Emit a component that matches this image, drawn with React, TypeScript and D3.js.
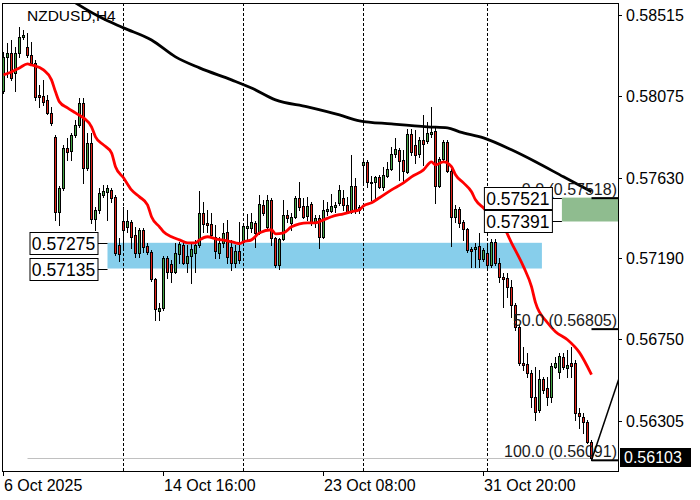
import * as d3 from 'd3'

// NZDUSD H4 candles, 6 Oct 2025 onwards
const opens = [
  0.58102, 0.58287, 0.58309, 0.582, 0.58309, 0.58396, 0.58341, 0.58298, 0.58255, 0.5808,
  0.58074, 0.58053, 0.57983, 0.57852, 0.57444, 0.57574, 0.57791, 0.57776, 0.57863, 0.57917,
  0.58037, 0.57683, 0.57819, 0.57406, 0.57455, 0.57536, 0.57552, 0.57563, 0.57525, 0.57264,
  0.57395, 0.57362, 0.57389, 0.57319, 0.57221, 0.57346, 0.57258, 0.57226, 0.57079, 0.56906,
  0.56921, 0.57193, 0.57161, 0.57117, 0.57215, 0.57264, 0.57167, 0.57204, 0.57221, 0.57264,
  0.57439, 0.57384, 0.57378, 0.57308, 0.57221, 0.57275, 0.57335, 0.57253, 0.57167, 0.57232,
  0.5728, 0.57356, 0.57356, 0.57384, 0.5733, 0.57482, 0.57362, 0.57509, 0.57302, 0.57156,
  0.57297, 0.57428, 0.57384, 0.57417, 0.5752, 0.57477, 0.57422, 0.57487, 0.57389, 0.57411,
  0.57308, 0.57449, 0.57449, 0.57471, 0.57493, 0.5752, 0.57482, 0.57444, 0.57585, 0.57471,
  0.57699, 0.57716, 0.57607, 0.57607, 0.57634, 0.5758, 0.5764, 0.57678, 0.57759, 0.57781,
  0.57727, 0.57661, 0.57868, 0.57808, 0.57759, 0.57835, 0.5783, 0.57868, 0.57885, 0.57585,
  0.57732, 0.57824, 0.57667, 0.57417, 0.5746, 0.57389, 0.57351, 0.57242, 0.57242, 0.57258,
  0.57188, 0.57221, 0.57156, 0.5728, 0.57167, 0.5709, 0.57084, 0.57036, 0.56938, 0.56818,
  0.56623, 0.56617, 0.56568, 0.56437, 0.56367, 0.56535, 0.56486, 0.56437, 0.56601, 0.56574,
  0.56655, 0.56595, 0.56623, 0.56623, 0.56351, 0.56329, 0.56301, 0.56193,
]
const highs = [
  0.58314, 0.58363, 0.58379, 0.58341, 0.5845, 0.58434, 0.58418, 0.58368, 0.58271, 0.58135,
  0.58162, 0.5808, 0.58015, 0.57863, 0.57585, 0.57808, 0.57846, 0.57874, 0.57944, 0.58063,
  0.58063, 0.57874, 0.57874, 0.57471, 0.57574, 0.57591, 0.57591, 0.57574, 0.57536, 0.57302,
  0.57471, 0.57455, 0.574, 0.57362, 0.57356, 0.57356, 0.57275, 0.57237, 0.57084, 0.56949,
  0.57204, 0.57204, 0.57183, 0.57275, 0.5728, 0.5728, 0.57264, 0.5728, 0.57291, 0.57558,
  0.57498, 0.57455, 0.57439, 0.57373, 0.57308, 0.57384, 0.574, 0.57291, 0.57264, 0.57389,
  0.57384, 0.57433, 0.57439, 0.57395, 0.57536, 0.57509, 0.57536, 0.5752, 0.57308, 0.57302,
  0.57509, 0.57455, 0.57439, 0.57531, 0.57607, 0.5752, 0.57525, 0.57498, 0.57428, 0.57428,
  0.57509, 0.57498, 0.57542, 0.57498, 0.57591, 0.57563, 0.57525, 0.57754, 0.57629, 0.57482,
  0.57737, 0.57727, 0.5764, 0.5764, 0.57645, 0.57689, 0.57716, 0.57797, 0.57846, 0.57791,
  0.57781, 0.57895, 0.57895, 0.5789, 0.57852, 0.57972, 0.57933, 0.58015, 0.57906, 0.57743,
  0.57835, 0.57835, 0.57678, 0.57482, 0.57471, 0.574, 0.57356, 0.57253, 0.57275, 0.5733,
  0.57247, 0.57264, 0.57297, 0.57297, 0.57193, 0.57112, 0.57112, 0.57074, 0.56949, 0.56829,
  0.56709, 0.56677, 0.56584, 0.56601, 0.56584, 0.56546, 0.56546, 0.56623, 0.56655, 0.56677,
  0.56677, 0.56693, 0.56709, 0.56639, 0.56378, 0.56351, 0.56312, 0.56203,
]
const lows = [
  0.58091, 0.58178, 0.58162, 0.58102, 0.58287, 0.58385, 0.58287, 0.58244, 0.58053, 0.58015,
  0.58026, 0.57977, 0.57917, 0.574, 0.57373, 0.57563, 0.57727, 0.57727, 0.57852, 0.57906,
  0.57602, 0.57672, 0.57384, 0.57346, 0.57439, 0.57525, 0.574, 0.57498, 0.5721, 0.57178,
  0.57237, 0.57335, 0.57247, 0.57199, 0.57199, 0.57226, 0.57215, 0.57069, 0.56856, 0.56856,
  0.56911, 0.57084, 0.57063, 0.57112, 0.57167, 0.57161, 0.57117, 0.57058, 0.57117, 0.57253,
  0.57335, 0.57335, 0.57302, 0.57193, 0.57193, 0.57253, 0.57167, 0.57128, 0.57145, 0.57167,
  0.57264, 0.57291, 0.57335, 0.57253, 0.57324, 0.57428, 0.57356, 0.57264, 0.57145, 0.57134,
  0.57291, 0.57389, 0.57346, 0.57411, 0.57455, 0.57411, 0.574, 0.57373, 0.57362, 0.57247,
  0.57302, 0.57428, 0.57444, 0.57444, 0.57482, 0.57455, 0.57439, 0.57439, 0.57439, 0.57439,
  0.57591, 0.5758, 0.57509, 0.5752, 0.57574, 0.57563, 0.57634, 0.57672, 0.57743, 0.57618,
  0.57602, 0.57656, 0.57754, 0.5771, 0.57743, 0.57699, 0.57819, 0.57852, 0.57493, 0.5758,
  0.57721, 0.57661, 0.57258, 0.57389, 0.57362, 0.57291, 0.57226, 0.57145, 0.57145, 0.57145,
  0.57178, 0.57139, 0.57145, 0.57156, 0.57063, 0.56927, 0.56981, 0.56873, 0.56802, 0.56612,
  0.56584, 0.56546, 0.56383, 0.56312, 0.56356, 0.56459, 0.56394, 0.5641, 0.56595, 0.56541,
  0.5659, 0.56546, 0.56546, 0.56312, 0.56269, 0.56242, 0.56187, 0.56091,
]
const closes = [
  0.58287, 0.58309, 0.58172, 0.58309, 0.58396, 0.58407, 0.58298, 0.58255, 0.58069, 0.58069,
  0.58042, 0.57983, 0.57928, 0.57444, 0.57574, 0.57791, 0.5777, 0.57863, 0.57917, 0.58037,
  0.57683, 0.57819, 0.57406, 0.57455, 0.57547, 0.57558, 0.57574, 0.5752, 0.57221, 0.57215,
  0.57346, 0.57395, 0.57308, 0.57221, 0.57346, 0.57253, 0.57226, 0.57079, 0.56916, 0.56921,
  0.57193, 0.57117, 0.57117, 0.57221, 0.57269, 0.57167, 0.57204, 0.57242, 0.57264, 0.57439,
  0.57378, 0.57373, 0.57319, 0.57232, 0.57275, 0.5733, 0.57199, 0.57167, 0.57232, 0.57183,
  0.57367, 0.57367, 0.57389, 0.5733, 0.57487, 0.57439, 0.57509, 0.57302, 0.57156, 0.57297,
  0.57428, 0.57411, 0.57417, 0.5752, 0.57471, 0.57417, 0.57477, 0.57384, 0.57411, 0.57308,
  0.57455, 0.5746, 0.57477, 0.57482, 0.57563, 0.57482, 0.57444, 0.57585, 0.57455, 0.57455,
  0.57716, 0.57607, 0.57602, 0.57634, 0.5758, 0.57645, 0.57678, 0.57759, 0.57786, 0.57721,
  0.57667, 0.57868, 0.5777, 0.57754, 0.57835, 0.57813, 0.57874, 0.57879, 0.57585, 0.57732,
  0.57824, 0.57667, 0.57417, 0.5746, 0.57384, 0.57351, 0.57237, 0.57232, 0.57253, 0.57188,
  0.57237, 0.57156, 0.5728, 0.57167, 0.5709, 0.57079, 0.57036, 0.56938, 0.56818, 0.56623,
  0.56612, 0.56568, 0.56437, 0.56356, 0.56535, 0.56475, 0.56437, 0.56606, 0.56623, 0.56661,
  0.56601, 0.56612, 0.56606, 0.56351, 0.56334, 0.56301, 0.56193, 0.56103,
]

// moving averages, read at sample bars
const redMaBars = [0, 2, 4, 6, 7, 10, 12, 13, 14, 16, 18, 20, 22, 23, 25, 27, 28, 30, 32, 34, 36, 37, 39, 40, 42, 44, 46, 48, 49, 51, 53, 56, 58, 59, 60, 62, 64, 67, 68, 70, 72, 76, 78, 80, 82, 85, 87, 89, 90, 92, 94, 97, 100, 102, 105, 107, 108, 110, 112, 113, 115, 117, 118, 120, 123, 125, 127, 130, 132, 133, 136, 138, 141, 144, 147]
const redMaValues = [0.58189, 0.58205, 0.58227, 0.58249, 0.58243, 0.58216, 0.58162, 0.58097, 0.58042, 0.58009, 0.57982, 0.57955, 0.57906, 0.57852, 0.57808, 0.57765, 0.57689, 0.57629, 0.57563, 0.57525, 0.57482, 0.57417, 0.57362, 0.57335, 0.57308, 0.57291, 0.57275, 0.57275, 0.57291, 0.57308, 0.57297, 0.57286, 0.57275, 0.5727, 0.57281, 0.57291, 0.57329, 0.57346, 0.57324, 0.57329, 0.57362, 0.57384, 0.57384, 0.574, 0.57417, 0.57433, 0.57444, 0.57455, 0.57476, 0.57493, 0.5752, 0.57563, 0.57601, 0.57634, 0.57672, 0.57716, 0.57699, 0.57716, 0.57689, 0.57645, 0.57601, 0.57553, 0.57509, 0.57465, 0.574, 0.57362, 0.57275, 0.57145, 0.57036, 0.56949, 0.5684, 0.56791, 0.56747, 0.56677, 0.56557]
const blackMaBars = [14, 18, 24, 30, 37, 43, 49, 57, 62, 68, 76, 84, 89, 97, 106, 111, 114, 120, 127, 133, 140, 147]
const blackMaValues = [0.58638, 0.58581, 0.58505, 0.58445, 0.58379, 0.58287, 0.58227, 0.58162, 0.58118, 0.58053, 0.58015, 0.57971, 0.57939, 0.57922, 0.57906, 0.57901, 0.57879, 0.57846, 0.57781, 0.57716, 0.57634, 0.57553]

const priceTicks = [0.58515, 0.58075, 0.5763, 0.5719, 0.5675, 0.56305]
const timeTickBars = [0, 40, 80, 120]
const timeTickLabels = ['6 Oct 2025', '14 Oct 16:00', '23 Oct 08:00', '31 Oct 20:00']
const weekStartBars = [30, 60, 90, 121]

const blueZone = [0.57275, 0.57135]
const blueZoneBars = [26, 134.6]
const greenZone = [0.57521, 0.57391]
const greenZoneBars = [139.6, 170]

const fibLevels = ['0.0', '50.0', '100.0']
const fibPrices = [0.57518, 0.56805, 0.56091]
const fibBar = 147
const fibTrendBars = [147, 169]
const fibTrendPrices = [0.56091, 0.57518]

const lastPrice = 0.56103
const bidLineStartBar = 6

const plot = { left: 2, top: 3, right: 618, bottom: 471 }
const FONT = '"Liberation Sans", Arial, sans-serif'
const UP = '#46a546'
const DOWN = '#e2231a'

export default function App() {
  const x = d3.scaleLinear().domain([0, 1]).range([3.5, 7.5])
  const y = d3.scaleLinear().domain([0.56305, 0.58515]).range([421, 15])
  const py = (p: number) => Math.round(y(p))

  const maPath = (bars: number[], vals: number[]) =>
    d3.line<number>()
      .x((_, i) => x(bars[i]))
      .y(d => y(d))
      .curve(d3.curveMonotoneX)(vals) || ''

  const zoneLabel = (price: number, left: number, key: string) => {
    const cy = y(price)
    const bx = left - 10 - 68
    return (
      <g key={key}>
        <line x1={bx + 68} x2={left} y1={Math.round(cy) + 0.5} y2={Math.round(cy) + 0.5} stroke="#000" />
        <rect x={bx + 0.5} y={Math.round(cy) - 10.5} width={68} height={22} fill="#fff" stroke="#000" />
        <text x={bx + 34} y={Math.round(cy) + 6.5} textAnchor="middle" fontSize={17.5} fontFamily={FONT} fill="#000">
          {price.toFixed(5)}
        </text>
      </g>
    )
  }

  const bx0 = x(blueZoneBars[0])
  const gx0 = x(greenZoneBars[0])

  return (
    <svg width={700} height={500} style={{ position: 'absolute', left: 0, top: 0, background: '#fff' }}>
      <defs>
        <clipPath id="plot">
          <rect x={plot.left} y={plot.top} width={plot.right - plot.left} height={plot.bottom - plot.top} />
        </clipPath>
      </defs>
      <rect x={0} y={0} width={700} height={500} fill="#fff" />

      <g clipPath="url(#plot)">
        {/* zones */}
        <rect x={bx0} y={y(blueZone[0])} width={x(blueZoneBars[1]) - bx0} height={y(blueZone[1]) - y(blueZone[0])} fill="#87ceeb" />
        <rect x={gx0} y={y(greenZone[0])} width={x(greenZoneBars[1]) - gx0} height={y(greenZone[1]) - y(greenZone[0])} fill="#8fbc8f" />

        {/* week separators */}
        {weekStartBars.map(b => (
          <line key={b} x1={Math.floor(x(b)) + 0.5} x2={Math.floor(x(b)) + 0.5} y1={plot.top} y2={plot.bottom}
            stroke="#000" strokeDasharray="3,2" />
        ))}

        {/* bid line */}
        <line x1={x(bidLineStartBar)} x2={x(fibBar)} y1={py(lastPrice) + 0.5} y2={py(lastPrice) + 0.5} stroke="#c0c0c0" />

        {/* candles */}
        {opens.map((o, i) => {
          const c = closes[i]
          const cx = x(i)
          const top = py(Math.max(o, c))
          const bot = py(Math.min(o, c))
          return (
            <g key={i} shapeRendering="crispEdges">
              <line x1={cx} x2={cx} y1={py(highs[i])} y2={py(lows[i]) + 1} stroke="#000" />
              <rect x={cx - 1} y={top + 0.5} width={2} height={Math.max(bot - top, 0)}
                fill={c >= o ? UP : DOWN} stroke="#000" />
            </g>
          )
        })}

        {/* moving averages */}
        <path d={maPath(blackMaBars, blackMaValues)} fill="none" stroke="#000" strokeWidth={2.8} />
        <path d={maPath(redMaBars, redMaValues)} fill="none" stroke="#ff0000" strokeWidth={2.8} />

        {/* fibonacci */}
        {fibPrices.map((p, i) => (
          <g key={i}>
            <line x1={x(fibBar)} x2={plot.right} y1={y(p)} y2={y(p)} stroke="#000" strokeWidth={2} />
            <text x={plot.right - 1} y={y(p) - 3} textAnchor="end" fontSize={16} fontFamily={FONT} fill="#1a1a1a">
              {`${fibLevels[i]} (${p.toFixed(5)})`}
            </text>
          </g>
        ))}
        <line x1={x(fibTrendBars[0])} y1={y(fibTrendPrices[0])} x2={x(fibTrendBars[1])} y2={y(fibTrendPrices[1])}
          stroke="#000" strokeWidth={1.5} />
      </g>

      {/* zone labels */}
      {zoneLabel(blueZone[0], bx0, 'b0')}
      {zoneLabel(blueZone[1], bx0, 'b1')}
      {zoneLabel(greenZone[0], gx0, 'g0')}
      {zoneLabel(greenZone[1], gx0, 'g1')}

      {/* title */}
      <text x={27} y={21} fontSize={15.5} fontFamily={FONT} fill="#000">NZDUSD,H4</text>

      {/* frame */}
      <rect x={plot.left + 0.5} y={plot.top + 0.5} width={plot.right - plot.left} height={plot.bottom - plot.top}
        fill="none" stroke="#000" shapeRendering="crispEdges" />

      {/* price axis */}
      {priceTicks.map(p => (
        <g key={p}>
          <line x1={plot.right} x2={plot.right + 4} y1={py(p) + 0.5} y2={py(p) + 0.5} stroke="#000" />
          <text x={626} y={y(p) + 6} fontSize={16} fontFamily={FONT} fill="#000">{p.toFixed(5)}</text>
        </g>
      ))}
      <rect x={620} y={py(lastPrice) - 10} width={71} height={19} fill="#000" />
      <text x={624} y={py(lastPrice) + 5} fontSize={16} fontFamily={FONT} fill="#fff">{lastPrice.toFixed(5)}</text>

      {/* time axis */}
      {timeTickBars.map((b, i) => (
        <g key={b}>
          <line x1={Math.floor(x(b)) + 0.5} x2={Math.floor(x(b)) + 0.5} y1={plot.bottom} y2={plot.bottom + 5} stroke="#000" />
          <text x={Math.floor(x(b)) + 1} y={491} fontSize={16} fontFamily={FONT} fill="#000">{timeTickLabels[i]}</text>
        </g>
      ))}
    </svg>
  )
}
